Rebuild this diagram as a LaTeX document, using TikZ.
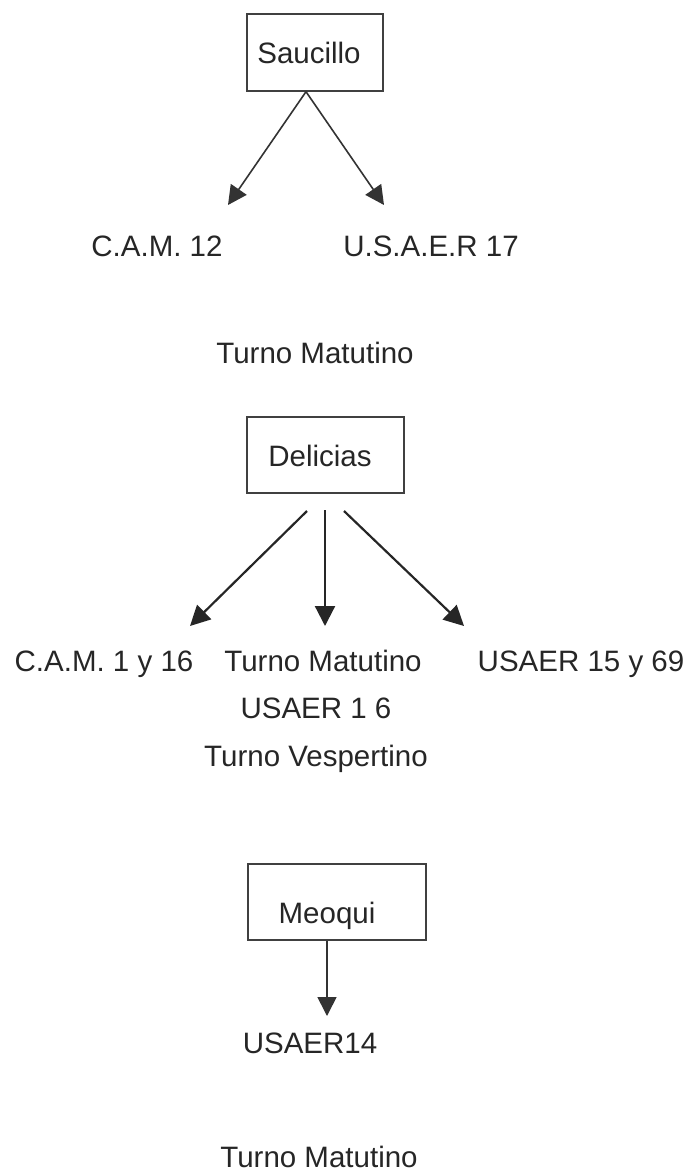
\documentclass[tikz,border=0pt]{standalone}
\usepackage{fontspec}
\setmainfont{Liberation Sans}
\usetikzlibrary{arrows.meta}
\begin{document}
\begin{tikzpicture}[x=1pt,y=-1pt,
  every node/.style={font=\fontsize{29.5}{35}\selectfont, text=black!85},
  boxframe/.style={draw=black!75, line width=1.4pt, inner sep=0pt},
  lbl/.style={inner sep=0pt, anchor=base},
  thinarrow/.style={draw=black!80, line width=1.6pt, -{Triangle[length=19pt,width=19pt]}},
  thickarrow/.style={draw=black!85, line width=2.2pt, -{Triangle[length=20pt,width=20pt]}}]
\useasboundingbox (0,0) rectangle (689,1176);
% Saucillo
\node[boxframe, minimum width=136pt, minimum height=77pt] (sau) at (315,52.5) {};
\node[lbl] (saut) at (309,63) {Saucillo};
\coordinate (sa1) at (228,205);
\coordinate (sa2) at (384,205);
\draw[thinarrow] (sau.south -| 306,0) -- (sa1);
\draw[thinarrow] (sau.south -| 306,0) -- (sa2);
\node[lbl] (cam12) at (157,256) {C.A.M. 12};
\node[lbl] (usaer17) at (431,256) {U.S.A.E.R 17};
\node[lbl] (tm1) at (315,363) {Turno Matutino};
% Delicias
\node[boxframe, minimum width=157pt, minimum height=76pt] (del) at (325.5,455) {};
\node[lbl] (delt) at (320,466) {Delicias};
\coordinate (d1s) at (307,511);
\coordinate (d2s) at (325,510);
\coordinate (d3s) at (344,511);
\coordinate (d1) at (190,626);
\coordinate (d2) at (325,626);
\coordinate (d3) at (464,626);
\draw[thickarrow] (d1s) -- (d1);
\draw[thickarrow] (d2s) -- (d2);
\draw[thickarrow] (d3s) -- (d3);
\node[lbl] (cam116) at (104,671) {C.A.M. 1 y 16};
\node[lbl] (tm2) at (323,671) {Turno Matutino};
\node[lbl] (usaer1569) at (581,671) {USAER 15 y 69};
\node[lbl] (usaer16) at (316,718) {USAER 1 6};
\node[lbl] (tv) at (316,766) {Turno Vespertino};
% Meoqui
\node[boxframe, minimum width=178pt, minimum height=76pt] (meo) at (337,902) {};
\node[lbl] (meot) at (327,923) {Meoqui};
\coordinate (m1) at (327,1016);
\draw[thinarrow] (meo.south -| m1) -- (m1);
\node[lbl] (usaer14) at (310,1053) {USAER14};
\node[lbl] (tm3) at (319,1167) {Turno Matutino};
\end{tikzpicture}
\end{document}
